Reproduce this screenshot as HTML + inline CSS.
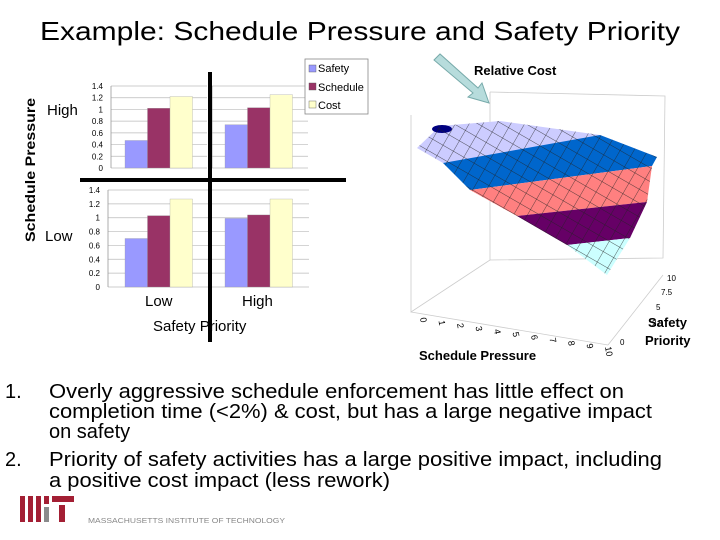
<!DOCTYPE html>
<html><head><meta charset="utf-8"><style>
body{margin:0;background:#fff;}
svg{display:block;font-family:"Liberation Sans",Arial,sans-serif;}
</style></head><body>
<svg id="s" width="720" height="540" viewBox="0 0 720 540">
<defs>
<pattern id="hatch" width="12" height="12" patternUnits="userSpaceOnUse" patternTransform="rotate(30)">
<path d="M0 0H12M0 0V12" stroke="#222" stroke-width="0.7" fill="none"/>
</pattern>
<clipPath id="surfclip"><polygon points="417,148 440,126 500,121 600,135 657,157 652,166 647,202 630,238 607,275 567,245 517,216 470,190 443,163"/></clipPath>
</defs>
<text x="360" y="40" text-anchor="middle" font-size="26" textLength="640" lengthAdjust="spacingAndGlyphs">Example: Schedule Pressure and Safety Priority</text>
<text transform="translate(35,242) rotate(-90)" font-size="14" font-weight="bold" textLength="144" lengthAdjust="spacingAndGlyphs">Schedule Pressure</text>
<text x="47" y="115" font-size="15">High</text>
<text x="45" y="241" font-size="15">Low</text>
<text x="145" y="306" font-size="15">Low</text>
<text x="242" y="306" font-size="15">High</text>
<text x="153" y="331" font-size="15">Safety Priority</text>
<g id="charts"></g>
<line x1="210" y1="72" x2="210" y2="342" stroke="#000" stroke-width="4"/>
<line x1="80" y1="180" x2="346" y2="180" stroke="#000" stroke-width="4"/>
<g>
<rect x="305" y="59" width="63" height="55" fill="#fff" stroke="#888" stroke-width="0.8"/>
<rect x="309" y="65" width="7" height="7" fill="#9999ff" stroke="#555" stroke-width="0.4"/><text x="318" y="72" font-size="11">Safety</text>
<rect x="309" y="83" width="7" height="7" fill="#993366" stroke="#555" stroke-width="0.4"/><text x="318" y="91" font-size="11">Schedule</text>
<rect x="309" y="101" width="7" height="7" fill="#ffffcc" stroke="#555" stroke-width="0.4"/><text x="318" y="109" font-size="11">Cost</text>
</g>
<g stroke="#ccc" stroke-width="0.8" fill="none">
<polyline points="411,115 411,312 490,260 490,92"/>
<polyline points="490,92 665,96 663,258 490,260"/>
<line x1="411" y1="312" x2="608" y2="345"/>
<line x1="608" y1="345" x2="663" y2="275"/>
</g>
<g>
<polygon points="417,148 440,126 500,121 600,135 657,157 443,163" fill="#ccccff"/>
<polygon points="443,163 600,135 657,157 652,166 470,190" fill="#0066cc"/>
<polygon points="470,190 652,166 647,202 517,216" fill="#ff8080"/>
<polygon points="517,216 647,202 630,238 567,245" fill="#660066"/>
<polygon points="567,245 630,238 607,275" fill="#ccffff"/>
<ellipse cx="442" cy="129" rx="10" ry="4" fill="#000080"/>
<rect x="400" y="110" width="270" height="180" fill="url(#hatch)" clip-path="url(#surfclip)"/>
</g>
<polygon points="434,60 440,54 478,88 482,83 489,103 468,97 473,93" fill="#b7dcdc" stroke="#7aa" stroke-width="1"/>
<text x="474" y="75" font-size="13" font-weight="bold">Relative Cost</text>
<g font-size="9" fill="#000" id="sticks"></g>
<g font-size="8">
<text x="667" y="281">10</text><text x="661" y="295">7.5</text><text x="656" y="310">5</text><text x="652" y="326">2.5</text><text x="620" y="345">0</text>
</g>
<text x="648" y="327" font-size="13" font-weight="bold">Safety</text>
<text x="645" y="345" font-size="13" font-weight="bold">Priority</text>
<text x="419" y="360" font-size="13" font-weight="bold">Schedule Pressure</text>
<g font-size="20">
<text x="5" y="398">1.</text><text x="49" y="398" textLength="575" lengthAdjust="spacingAndGlyphs">Overly aggressive schedule enforcement has little effect on</text>
<text x="49" y="418" textLength="603" lengthAdjust="spacingAndGlyphs">completion time (&lt;2%) &amp; cost, but has a large negative impact</text>
<text x="49" y="438">on safety</text>
<text x="5" y="466">2.</text><text x="49" y="466" textLength="613" lengthAdjust="spacingAndGlyphs">Priority of safety activities has a large positive impact, including</text>
<text x="49" y="487" textLength="341" lengthAdjust="spacingAndGlyphs">a positive cost impact (less rework)</text>
</g>
<g>
<rect x="20" y="496" width="5" height="26" fill="#a31f34"/><rect x="28" y="496" width="5" height="26" fill="#a31f34"/><rect x="36" y="496" width="5" height="26" fill="#a31f34"/>
<rect x="44" y="496" width="5" height="8" fill="#a31f34"/><rect x="44" y="507" width="5" height="15" fill="#8a8b8c"/>
<rect x="52" y="496" width="22" height="6" fill="#a31f34"/><rect x="59" y="505" width="6" height="17" fill="#a31f34"/>
<text x="88" y="523" font-size="7" fill="#888" textLength="197" lengthAdjust="spacingAndGlyphs">MASSACHUSETTS INSTITUTE OF TECHNOLOGY</text>
</g>
<script>
const series = ["Safety","Schedule","Cost"];
const colors = ["#9999ff","#993366","#ffffcc"];
const tlValues = [0.47,1.02,1.22];
const trValues = [0.74,1.03,1.25];
const blValues = [0.70,1.03,1.27];
const brValues = [0.99,1.04,1.27];
const tickLabels = ["0","0.2","0.4","0.6","0.8","1","1.2","1.4"];
const tickValues = [0,0.2,0.4,0.6,0.8,1,1.2,1.4];
const NS="http://www.w3.org/2000/svg";
const g=document.getElementById('charts');
function mk(t,a){const e=document.createElementNS(NS,t);for(const k in a)e.setAttribute(k,a[k]);g.appendChild(e);return e;}
function panel(vals,name,x0,x1,yBase,yTop,barStart,axis,grid){
  const y=v=>yBase-(v/1.4)*(yBase-yTop);
  if(grid){tickValues.forEach(v=>{const l=mk('line',{x1:x0,x2:x1,y1:y(v),y2:y(v),stroke:'#bbb','stroke-width':0.7});
    
    });}
  const ax=mk('line',{x1:x0,x2:x0,y1:yTop,y2:yBase,stroke:'#999','stroke-width':0.8});
  
  
  if(axis){tickValues.forEach((v,i)=>{const t=mk('text',{x:x0-8,y:y(v)+3,'font-size':8,'text-anchor':'end'});t.textContent=tickLabels[i];
    
    });}
  vals.forEach((v,i)=>{const r=mk('rect',{x:barStart+i*22.5,y:y(v),width:22.5,height:yBase-y(v),fill:colors[i],stroke:'#999','stroke-width':0.3});
    
    });
}
panel(tlValues,'high-low',111,207,168,86,125,true,true);
panel(trValues,'high-high',212,308,168,86,225,false,true);
panel(blValues,'low-low',108,208,287,190,125,true,true);
panel(brValues,'low-high',209,309,287,190,225,false,true);
const sg=document.getElementById('sticks');
const sched=["0","1","2","3","4","5","6","7","8","9","10"];
sched.forEach((s,i)=>{const t=document.createElementNS(NS,'text');
  const x=420+i*18.5,yy=318+i*2.9;
  t.setAttribute('transform','translate('+x+','+yy+') rotate(80)');
  t.textContent=s;
  
  
  sg.appendChild(t);});
</script>
</svg>
</body></html>
